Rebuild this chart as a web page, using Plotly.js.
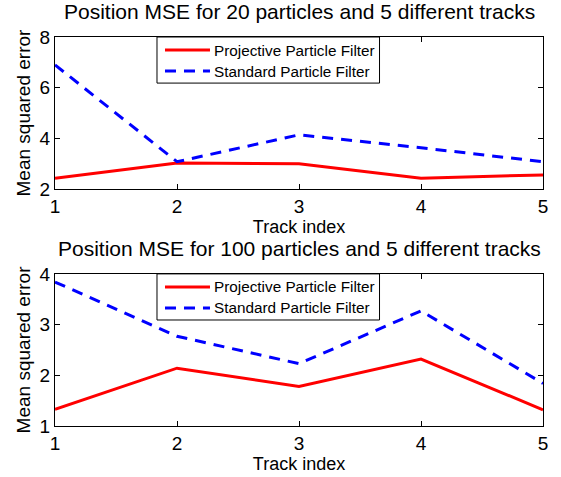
<!DOCTYPE html>
<html><head><meta charset="utf-8">
<script src="https://cdn.plot.ly/plotly-3.0.1.min.js"></script>
<style>html,body{margin:0;padding:0;background:#fff}</style>
</head><body><div id="chart" style="width:561px;height:477px"></div>
<script>
const trackIndex = [1, 2, 3, 4, 5];
const proj20 = [2.43, 3.03, 3.0, 2.43, 2.56];
const std20 = [6.9, 3.08, 4.14, 3.63, 3.08];
const proj100 = [1.33, 2.14, 1.78, 2.32, 1.32];
const std100 = [3.84, 2.77, 2.23, 3.27, 1.84];
const title20 = "Position MSE for 20 particles and 5 different tracks";
const title100 = "Position MSE for 100 particles and 5 different tracks";
const names = ["Projective Particle Filter", "Standard Particle Filter"];

const font = "Liberation Sans, Arial, Helvetica, sans-serif";
const red = "#ff0000", blue = "#0000ff";
const dashPat = "11px,8px";
const styles = [{color: red, width: 3}, {color: blue, width: 3, dash: dashPat}];

const traces = [
  {x: trackIndex, y: proj20, name: names[0], mode: "lines", line: styles[0], xaxis: "x", yaxis: "y"},
  {x: trackIndex, y: std20, name: names[1], mode: "lines", line: styles[1], xaxis: "x", yaxis: "y"},
  {x: trackIndex, y: proj100, name: names[0], mode: "lines", line: styles[0], xaxis: "x2", yaxis: "y2"},
  {x: trackIndex, y: std100, name: names[1], mode: "lines", line: styles[1], xaxis: "x2", yaxis: "y2"}
];

const axCommon = {
  showline: true, mirror: "ticks", linecolor: "#000", linewidth: 1,
  ticks: "inside", ticklen: 5, tickcolor: "#000", showgrid: false, zeroline: false,
  tickfont: {family: font, size: 19, color: "#000"}
};
const xTitle = {text: "Track index", font: {family: font, size: 18, color: "#000"}, standoff: 2};
const yTitle = {text: "Mean squared error", font: {family: font, size: 19, color: "#000"}, standoff: 3};
const titleFont = {family: font, size: 21, color: "#000"};
const legFont = {family: font, size: 15.3, color: "#000"};

// Legend box drawn in each subplot's domain coordinates
const shapes = [], annotations = [];
[["x", "y"], ["x2", "y2"]].forEach(([xa, ya]) => {
  const xr = xa + " domain", yr = ya + " domain";
  shapes.push({type: "rect", xref: xr, yref: yr, x0: 0.209, x1: 0.665, y0: 0.697, y1: 1,
    line: {color: "#000", width: 1}, fillcolor: "#fff", layer: "above"});
  [0.914, 0.776].forEach((yy, i) => {
    shapes.push({type: "line", xref: xr, yref: yr, x0: 0.2254, x1: 0.3176, y0: yy, y1: yy,
      line: styles[i], layer: "above"});
    annotations.push({text: names[i], xref: xr, yref: yr, x: 0.322, y: yy, xanchor: "left", yanchor: "middle",
      showarrow: false, font: legFont});
  });
});
annotations.push(
  {text: title20, xref: "paper", yref: "paper", x: 0.5, y: 1, yshift: 12, xanchor: "center", yanchor: "bottom", showarrow: false, font: titleFont},
  {text: title100, xref: "paper", yref: "paper", x: 0.5, y: 0.391, yshift: 12, xanchor: "center", yanchor: "bottom", showarrow: false, font: titleFont}
);

const layout = {
  width: 561, height: 477,
  margin: {l: 55, r: 18, t: 37, b: 51},
  paper_bgcolor: "#fff", plot_bgcolor: "#fff",
  showlegend: false,
  xaxis: Object.assign({}, axCommon, {domain: [0, 1], anchor: "y", range: [1, 5], tickvals: trackIndex, title: xTitle}),
  yaxis: Object.assign({}, axCommon, {domain: [0.609, 1], anchor: "x", range: [2, 8], tickvals: [2, 4, 6, 8], title: yTitle}),
  xaxis2: Object.assign({}, axCommon, {domain: [0, 1], anchor: "y2", range: [1, 5], tickvals: trackIndex, title: xTitle}),
  yaxis2: Object.assign({}, axCommon, {domain: [0, 0.391], anchor: "x2", range: [1, 4], tickvals: [1, 2, 3, 4], title: yTitle}),
  shapes: shapes,
  annotations: annotations
};

Plotly.newPlot("chart", traces, layout, {staticPlot: true});
</script></body></html>
